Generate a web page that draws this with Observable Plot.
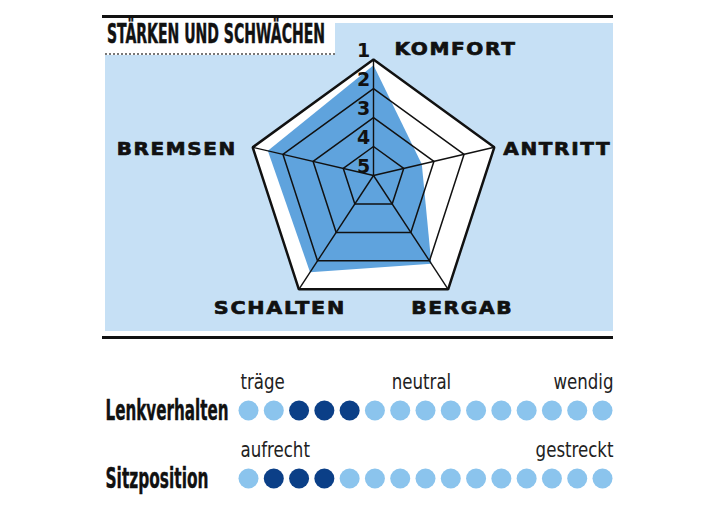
<!DOCTYPE html>
<html><head><meta charset="utf-8">
<script src="https://cdn.jsdelivr.net/npm/d3@7"></script>
<script src="https://cdn.jsdelivr.net/npm/@observablehq/plot@0.6"></script>
<style>
body{margin:0;background:#fff;}
#wrap{position:relative;width:712px;height:513px;overflow:hidden;}
.abs{position:absolute;}
</style></head><body>
<div id="wrap">
 <div class="abs" style="left:102px;top:15px;width:511px;height:2.5px;background:#111"></div>
 <div class="abs" style="left:105px;top:23px;width:508px;height:308px;background:#c6e0f5"></div>
 <div class="abs" style="left:105px;top:23px;width:230px;height:30px;background:#fff;border-bottom:2px dotted #777"></div>
 <div class="abs" style="left:102px;top:336px;width:511px;height:2.5px;background:#111"></div>
 <svg class="abs" style="left:0;top:0" width="712" height="60"><text x="107" y="43.5" font-family="'Liberation Sans Narrow','DejaVu Sans Condensed',sans-serif" font-weight="bold" font-size="22.5" fill="#111" stroke="#111" stroke-width="0.4" textLength="218" lengthAdjust="spacingAndGlyphs" transform="translate(0,43.5) scale(1,1.2) translate(0,-43.5)">STÄRKEN UND SCHWÄCHEN</text></svg>
 <div id="radar" class="abs" style="left:0;top:0"></div>
 <div id="dots" class="abs" style="left:0;top:340px"></div>
</div>
<script>
// ---- data ----
const axes = ["KOMFORT", "ANTRITT", "BERGAB", "SCHALTEN", "BREMSEN"];
const scores = [1.2, 3.4, 1.9, 1.6, 1.5];   // 1 = best (outer), 5 = centre
const levels = [1, 2, 3, 4, 5];
const rows = ["Lenkverhalten", "Sitzposition"];
const lenkverhalten = [0,0,1,1,1,0,0,0,0,0,0,0,0,0,0];
const sitzposition  = [0,1,1,1,0,0,0,0,0,0,0,0,0,0,0];
const lenkLabels = ["träge", "neutral", "wendig"];
const lenkLabelPos = [0, 7, 14];
const sitzLabels = ["aufrecht", "gestreckt"];
const sitzLabelPos = [0, 14];

// ---- radar geometry ----
const shift = 0.087; // outer pentagon centre sits slightly below the spoke hub
const angles = axes.map((d, i) => Math.PI / 2 - i * 2 * Math.PI / 5);
const outer = angles.map(a => [Math.cos(a), Math.sin(a) - shift]);
const rad = d3.scaleLinear().domain([5, 1]).range([0, 1]);
const pt = (i, v) => ({x: rad(v) * outer[i][0], y: rad(v) * outer[i][1]});

const outerPoly = axes.map((a, i) => pt(i, 1));
const gridData = levels.filter(l => l > 1 && l < 5).flatMap(l => axes.map((a, i) => ({level: l, ...pt(i, l)})));
const dataPoly = axes.map((a, i) => ({axis: a, ...pt(i, scores[i])}));
const spokes = axes.map((a, i) => ({x1: 0, y1: 0, x2: outer[i][0], y2: outer[i][1]}));
const levelLabels = levels.map(l => ({l, x: 0, y: rad(l) * outer[0][1]}));

// label placement (styling): anchor, pixel offset from the outer vertex, drawn width
const labelPlace = [
  {textAnchor: "start", dx: 21, dy: -10, w: 122},
  {textAnchor: "start", dx: 9, dy: 2, w: 108},
  {textAnchor: "middle", dx: 14, dy: 19, w: 102},
  {textAnchor: "middle", dx: -19, dy: 19, w: 132},
  {textAnchor: "end", dx: -16, dy: 2, w: 120}
];

const U = 127, CX = 373, CY = 175, H1 = 340;
const radar = Plot.plot({
  width: 712, height: H1, margin: 0,
  style: {background: "transparent", overflow: "visible"},
  x: {domain: [-CX / U, (712 - CX) / U], range: [0, 712], axis: null},
  y: {domain: [-(H1 - CY) / U, CY / U], range: [H1, 0], axis: null},
  marks: [
    Plot.line(outerPoly, {x: "x", y: "y", curve: "linear-closed", fill: "white", stroke: "none"}),
    Plot.line(dataPoly, {x: "x", y: "y", curve: "linear-closed", fill: "#5fa3dd", stroke: "none"}),
    Plot.line(gridData, {x: "x", y: "y", z: "level", curve: "linear-closed", stroke: "#111", strokeWidth: 1.5, strokeLinejoin: "miter"}),
    Plot.link(spokes, {x1: "x1", y1: "y1", x2: "x2", y2: "y2", stroke: "#111", strokeWidth: 1.4}),
    Plot.line(outerPoly, {x: "x", y: "y", curve: "linear-closed", stroke: "#111", strokeWidth: 2.5, strokeLinejoin: "miter"}),
    Plot.text(levelLabels, {x: "x", y: "y", text: "l", dx: -10, dy: -9, fontSize: 19, fontWeight: "bold", fill: "#111", fontFamily: "DejaVu Sans"}),
    ...axes.map((a, i) => Plot.text([a], {
      x: () => outer[i][0], y: () => outer[i][1], text: d => d,
      textAnchor: labelPlace[i].textAnchor, dx: labelPlace[i].dx, dy: labelPlace[i].dy,
      fontSize: 18.5, fontWeight: "bold", fontFamily: "DejaVu Sans", fill: "#111",
      stroke: "#111", strokeWidth: 0.7
    }))
  ]
});
document.getElementById("radar").appendChild(radar);
d3.select(radar).selectAll("text").filter(function() { return axes.includes(this.textContent); })
  .each(function() {
    const w = labelPlace[axes.indexOf(this.textContent)].w;
    d3.select(this).attr("letter-spacing", 1.5).attr("textLength", w).attr("lengthAdjust", "spacingAndGlyphs");
  });

// ---- dot rows ----
const dotData = rows.flatMap((r, ri) => (ri === 0 ? lenkverhalten : sitzposition).map((v, i) => ({row: r, i, v})));
const condensed = "'Liberation Sans Narrow','DejaVu Sans Condensed',sans-serif";
const scaleText = (labels, pos, row) => labels.map((t, k) => Plot.text([t], {
  x: () => pos[k], y: () => row, text: d => d,
  textAnchor: pos[k] === 0 ? "start" : pos[k] === 14 ? "end" : "middle",
  dx: pos[k] === 0 ? -8 : pos[k] === 14 ? 11 : -4,
  dy: -28, fontSize: 21, fontFamily: condensed, fill: "#222"
}));
const dots = Plot.plot({
  width: 712, height: 173, margin: 0,
  style: {background: "transparent", overflow: "visible"},
  x: {domain: [0, 14], range: [248, 602], axis: null},
  y: {type: "point", domain: rows, range: [70, 138], padding: 0, axis: null},
  color: {type: "identity"},
  marks: [
    Plot.dot(dotData, {x: "i", y: "row", r: 10, fill: d => d.v ? "#0b3f87" : "#8bc4ed", stroke: "none"}),
    Plot.text(rows, {x: () => 0, y: d => d, text: d => d, textAnchor: "start", dx: -143, dy: 1,
      fontSize: 28, fontWeight: "bold", fontFamily: condensed, fill: "#111", stroke: "#111", strokeWidth: 0.4}),
    ...scaleText(lenkLabels, lenkLabelPos, rows[0]),
    ...scaleText(sitzLabels, sitzLabelPos, rows[1])
  ]
});
document.getElementById("dots").appendChild(dots);
// squeeze the row labels to the condensed width of the original
const rowWidths = [123, 103];
const scaleLabels = lenkLabels.concat(sitzLabels);
d3.select(dots).selectAll("text").each(function() {
  const t = this.textContent;
  if (rows.includes(t)) {
    d3.select(this).attr("textLength", rowWidths[rows.indexOf(t)]).attr("lengthAdjust", "spacingAndGlyphs");
  } else if (scaleLabels.includes(t)) {
    d3.select(this).attr("textLength", this.getComputedTextLength() * 0.88).attr("lengthAdjust", "spacingAndGlyphs");
  }
});
</script>
</body></html>
